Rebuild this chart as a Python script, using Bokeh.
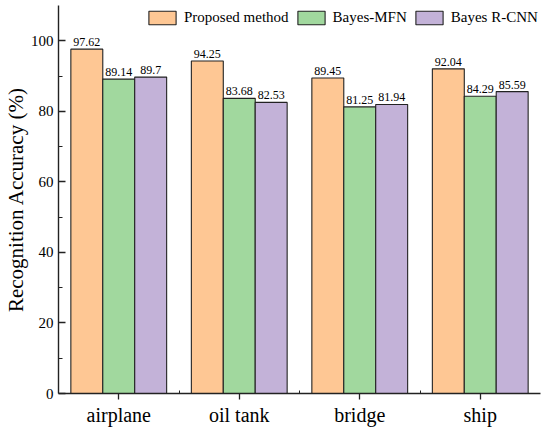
from bokeh.plotting import figure
from bokeh.models import ColumnDataSource, LabelSet, Range1d, FixedTicker, Legend, LegendItem
from bokeh.transform import dodge
from bokeh.embed import file_html
from bokeh.resources import INLINE

categories = ["airplane", "oil tank", "bridge", "ship"]
proposed = [97.62, 94.25, 89.45, 92.04]
bayes_mfn = [89.14, 83.68, 81.25, 84.29]
bayes_rcnn = [89.7, 82.53, 81.94, 85.59]
series_names = ["Proposed method", "Bayes-MFN", "Bayes R-CNN"]
colors = ["#FEC794", "#A1D89E", "#C3B2D8"]
y_ticks = [0, 20, 40, 60, 80, 100]
y_minor = [10, 30, 50, 70, 90]
y_title = "Recognition Accuracy (%)"

pos = list(range(1, len(categories) + 1))
src = ColumnDataSource(dict(
    x=pos,
    p=proposed, m=bayes_mfn, r=bayes_rcnn,
    pl=[str(v) for v in proposed],
    ml=[str(v) for v in bayes_mfn],
    rl=[str(v) for v in bayes_rcnn],
))

FONT = "Liberation Serif"
p = figure(width=550, height=431, output_backend="svg", toolbar_location=None,
           x_range=Range1d(0.5, len(categories) + 0.5), y_range=Range1d(0, 110),
           min_border_left=58, min_border_right=10, min_border_top=5, min_border_bottom=38)
p.outline_line_color = None
p.xgrid.visible = False
p.ygrid.visible = False
p.background_fill_color = "white"

bw = 0.265
offs = [-bw, 0, bw]
fields = ["p", "m", "r"]
lfields = ["pl", "ml", "rl"]
renderers = []
for f, lf, o, c in zip(fields, lfields, offs, colors):
    rr = p.vbar(x=dodge("x", o, range=p.x_range), top=f, width=bw, bottom=0, source=src,
                fill_color=c, line_color="#222222", line_width=1.1)
    renderers.append(rr)
    lab = LabelSet(x=dodge("x", o, range=p.x_range), y=f, text=lf, source=src,
                   text_align="center", text_baseline="alphabetic", y_offset=3,
                   text_font=FONT, text_font_size="12px", text_color="black")
    p.add_layout(lab)

legend = Legend(items=[LegendItem(label=n, renderers=[r]) for n, r in zip(series_names, renderers)],
                orientation="horizontal", location=(87, 367),
                glyph_width=34, glyph_height=17, label_standoff=5, spacing=5,
                padding=0, margin=0, border_line_color=None, background_fill_alpha=0,
                label_text_font=FONT, label_text_font_size="15px", label_text_color="black")
p.add_layout(legend)

# x axis
xa = p.xaxis[0]
xa.ticker = FixedTicker(ticks=pos, minor_ticks=[i + 0.5 for i in pos[:-1]])
xa.major_label_overrides = {i: c for i, c in zip(pos, categories)}
xa.major_tick_in = 0
xa.major_tick_out = 6
xa.minor_tick_in = 3
xa.minor_tick_out = 0
xa.major_label_standoff = 4
xa.major_label_text_font = FONT
xa.major_label_text_font_size = "20px"
xa.major_label_text_color = "black"
xa.axis_line_width = 1.4
xa.axis_line_color = "#222222"
xa.major_tick_line_color = "#222222"
xa.minor_tick_line_color = "#222222"
xa.major_tick_line_width = 1.3

# y axis
ya = p.yaxis[0]
ya.ticker = FixedTicker(ticks=y_ticks, minor_ticks=y_minor)
ya.major_tick_in = 7
ya.major_tick_out = 0
ya.minor_tick_in = 4
ya.minor_tick_out = 0
ya.major_label_standoff = 5
ya.major_label_text_font = FONT
ya.major_label_text_font_size = "15px"
ya.major_label_text_color = "black"
ya.axis_label = y_title
ya.axis_label_text_font = FONT
ya.axis_label_text_font_size = "21px"
ya.axis_label_text_font_style = "normal"
ya.axis_label_text_color = "black"
ya.axis_label_standoff = 0
ya.axis_line_width = 1.4
ya.axis_line_color = "#222222"
ya.major_tick_line_color = "#222222"
ya.minor_tick_line_color = "#222222"
ya.major_tick_line_width = 1.3

open("out.html", "w").write(file_html(p, INLINE))
